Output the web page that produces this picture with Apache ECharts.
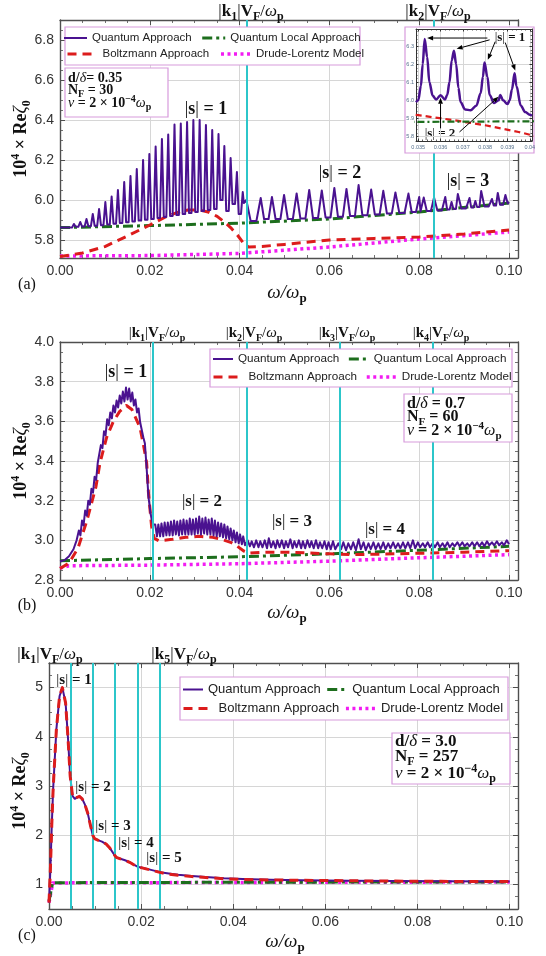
<!DOCTYPE html>
<html><head><meta charset="utf-8">
<script src="https://cdn.jsdelivr.net/npm/echarts@6/dist/echarts.min.js"></script>
<style>html,body{margin:0;padding:0;background:#fff}#c{width:546px;height:956px}</style>
</head><body><div id="c"></div>
<script>
// ---------------- DATA ----------------
// Panel (a): Quantum approach spikes (peak positions, peak heights, trough level after each peak)
const aPeakX = [0.0031,0.0045,0.0059,0.0073,0.0087,0.0101,0.0115,0.0129,0.0143,0.0157,0.0171,0.0185,0.0199,0.0213,0.0227,0.0241,0.0255,0.0269,0.0283,0.0297,0.0311,0.0325,0.0339,0.0353,0.0366,0.0380,0.0394,0.0407,0.0415,
  0.0447,0.0472,0.0499,0.0527,0.0555,0.0583,0.0611,0.0638,0.0665,0.0693,0.0720,0.0747,0.0776,0.0800,0.0810,0.0833,0.0858,0.0872,0.0886,0.0912,0.0925,0.0938,0.0962,0.0975,0.0992];
const aPeakY = [5.88,5.89,5.905,5.93,5.955,5.99,6.017,6.05,6.09,6.12,6.155,6.20,6.23,6.267,6.305,6.327,6.377,6.383,6.39,6.40,6.40,6.375,6.35,6.33,6.27,6.21,6.14,6.04,6.0,
  6.010,6.015,6.025,6.033,6.050,6.048,6.060,6.055,6.075,6.052,6.046,6.038,6.032,6.015,6.012,6.012,6.015,5.99,6.03,6.01,5.995,6.045,6.005,6.035,6.025];
const aTroughY = [5.866,5.867,5.869,5.871,5.874,5.877,5.881,5.885,5.889,5.893,5.897,5.901,5.905,5.91,5.915,5.92,5.925,5.93,5.935,5.94,5.945,5.95,5.955,6.0,5.945,5.98,5.93,5.985,5.895,
  5.905,5.905,5.905,5.907,5.91,5.913,5.916,5.92,5.924,5.928,5.932,5.935,5.94,5.943,5.945,5.948,5.952,5.955,5.958,5.962,5.965,5.968,5.972,5.976,5.982];
const aQuantStart = [0, 5.862];
const aQuantEnd = [0.1, 5.99];
const aBoltz = [[0,5.717],[0.005,5.735],[0.01,5.767],[0.015,5.82],[0.02,5.875],[0.0235,5.915],[0.026,5.937],[0.0285,5.95],[0.031,5.95],[0.033,5.94],[0.035,5.918],[0.0365,5.892],[0.038,5.862],[0.0395,5.825],[0.041,5.78],[0.042,5.765],[0.045,5.768],[0.05,5.778],[0.06,5.8],[0.07,5.808],[0.08,5.815],[0.09,5.83],[0.1,5.85]];
const aLocal = [[0,5.862],[0.02,5.872],[0.04,5.884],[0.06,5.905],[0.08,5.94],[0.1,5.985]];
const aDrude = [[0,5.72],[0.02,5.722],[0.04,5.733],[0.06,5.765],[0.08,5.805],[0.1,5.84]];
const kA = [0.0416, 0.0833];
// Inset of panel (a): quantum approach, 0.035 - 0.040
const insetQuant = [[0.0349,5.99],[0.0350,6.0],[0.03512,6.08],[0.0352,6.2],[0.03529,6.34],[0.0354,6.24],[0.0355,6.1],[0.03565,6.025],[0.0358,6.005],[0.0360,6.028],[0.0362,6.005],[0.0363,6.03],[0.0364,6.1],[0.0365,6.22],[0.0366,6.275],[0.0367,6.2],[0.0368,6.07],[0.0369,5.99],[0.0371,5.95],[0.03735,5.945],[0.0376,5.97],[0.0378,6.04],[0.0379,6.13],[0.03797,6.21],[0.0381,6.13],[0.0382,6.03],[0.0384,5.985],[0.0386,6.0],[0.03868,6.03],[0.0388,6.0],[0.0390,5.98],[0.0391,6.0],[0.0392,6.06],[0.03932,6.15],[0.0394,6.08],[0.0396,5.97],[0.0398,5.935],[0.0400,5.92],[0.0401,5.915]];
// Inset annotation arrows (from label, to feature), in inset data units
const insetArrows = [
  [[0.0381,6.345],[0.03540,6.345]],
  [[0.0382,6.335],[0.03672,6.285]],
  [[0.03845,6.325],[0.03812,6.225]],
  [[0.0389,6.32],[0.03935,6.165]],
  [[0.0360,5.845],[0.0360,6.015]],
  [[0.03685,5.825],[0.03860,6.02]]
];

// Panel (b)
const bQuant = [[0,2.893],[0.001,2.9],[0.002,2.92],[0.003,2.955],[0.0037,3.0],
 [0.0042,3.05],[0.00455,3.025],[0.0049,3.10],[0.00525,3.075],[0.0056,3.15],[0.00595,3.125],[0.0063,3.20],[0.00665,3.18],[0.0070,3.26],[0.00735,3.24],[0.0077,3.32],[0.00805,3.305],[0.0084,3.39],[0.00875,3.385],[0.0091,3.48],[0.00945,3.465],[0.0098,3.55],[0.01015,3.53],[0.0105,3.61],[0.01085,3.58],[0.0112,3.645],[0.01155,3.615],[0.0119,3.68],[0.01225,3.645],[0.0126,3.705],[0.01295,3.67],[0.0133,3.73],[0.01365,3.69],[0.0140,3.75],[0.01435,3.70],[0.0147,3.77],[0.01505,3.71],[0.0154,3.765],[0.01575,3.70],[0.0161,3.745],[0.01645,3.68],[0.0168,3.71],[0.01715,3.645],[0.0175,3.665],[0.01785,3.595],[0.0182,3.60],[0.01855,3.52],[0.0189,3.49],[0.01925,3.38],[0.0197,3.22],[0.0202,3.13],[0.0207,3.08],
 [0.0212,3.08],[0.0216,3.02],[0.0219,3.08],[0.0223,3.02],[0.0226,3.085],[0.0230,3.02],[0.0233,3.09],[0.0237,3.025],[0.0240,3.09],[0.0244,3.025],[0.0247,3.095],[0.0251,3.025],[0.0254,3.10],[0.0258,3.03],[0.0261,3.095],[0.0265,3.025],[0.0268,3.10],[0.0272,3.03],[0.0275,3.105],[0.0279,3.03],[0.0282,3.10],[0.0286,3.03],[0.0289,3.11],[0.0293,3.03],[0.0296,3.105],[0.0300,3.03],[0.0303,3.11],[0.0307,3.035],[0.0310,3.12],[0.0314,3.03],[0.0317,3.11],[0.0321,3.035],[0.0324,3.115],[0.0328,3.03],[0.0331,3.105],[0.0335,3.03],[0.0338,3.11],[0.0342,3.025],[0.0345,3.10],[0.0349,3.02],[0.0352,3.09],[0.0356,3.02],[0.0359,3.085],[0.0363,3.015],[0.0366,3.08],[0.0370,3.01],[0.0373,3.07],[0.0377,3.005],[0.0380,3.06],[0.0384,3.0],[0.0387,3.05],[0.0391,2.99],[0.0394,3.04],[0.0398,2.985],[0.0401,3.03],[0.0405,2.98],[0.0408,3.02],[0.0412,2.975],
 [0.0418,3.0],[0.0423,2.97],[0.0427,2.995],[0.0432,2.965],[0.0437,3.0],[0.0442,2.965],[0.0446,2.995],[0.0451,2.965],[0.0456,3.0],[0.0461,2.96],[0.0465,3.01],[0.0470,2.965],[0.0475,2.995],[0.0480,2.96],[0.0484,3.0],[0.0489,2.965],[0.0494,3.0],[0.0499,2.96],[0.0503,2.995],[0.0508,2.965],[0.0513,3.005],[0.0518,2.96],[0.0522,2.995],[0.0527,2.965],[0.0532,3.0],[0.0537,2.96],[0.0541,2.995],[0.0546,2.96],[0.0551,3.0],[0.0556,2.965],[0.0560,2.995],[0.0565,2.96],[0.0570,3.0],[0.0575,2.96],[0.0579,2.99],[0.0584,2.96],[0.0589,2.995],[0.0594,2.955],[0.0598,2.99],[0.0603,2.955],[0.0608,2.995],[0.0613,2.955],
 [0.0620,2.985],[0.0626,2.955],[0.0631,2.99],[0.0637,2.95],[0.0642,2.985],[0.0648,2.955],[0.0653,2.99],[0.0659,2.95],[0.0665,3.005],[0.0670,2.955],[0.0676,2.99],[0.0681,2.95],[0.0687,2.985],[0.0692,2.955],[0.0698,2.99],[0.0703,2.955],[0.0709,2.985],[0.0714,2.955],[0.0720,2.99],[0.0725,2.955],[0.0731,2.985],[0.0736,2.96],[0.0742,2.99],[0.0747,2.96],[0.0753,2.985],[0.0758,2.96],[0.0764,2.99],[0.0769,2.96],[0.0775,2.99],[0.0780,2.96],[0.0786,3.0],[0.0791,2.96],[0.0797,2.99],[0.0802,2.965],[0.0808,2.985],[0.0813,2.965],[0.0819,2.99],[0.0824,2.965],[0.0830,2.985],[0.0835,2.965],[0.0841,2.99],[0.0846,2.965],[0.0852,2.985],[0.0857,2.965],[0.0863,2.99],[0.0868,2.965],[0.0874,2.985],[0.0879,2.97],[0.0885,2.99],[0.0890,2.97],[0.0896,2.99],[0.0901,2.97],[0.0907,2.985],[0.0912,2.97],[0.0918,2.99],[0.0923,2.97],[0.0929,2.99],[0.0934,2.97],[0.0940,2.99],[0.0945,2.97],[0.0951,2.995],[0.0956,2.975],[0.0962,2.99],[0.0967,2.975],[0.0973,2.995],[0.0978,2.975],[0.0984,2.99],[0.0989,2.975],[0.0995,3.0],[0.1,2.98]];
const bBoltz = [[0,2.858],[0.002,2.885],[0.004,2.96],[0.006,3.1],[0.008,3.27],[0.0089,3.39],[0.0104,3.52],[0.0119,3.6],[0.0133,3.65],[0.0148,3.68],[0.016,3.66],[0.0178,3.57],[0.0186,3.48],[0.0193,3.39],[0.0197,3.24],[0.0204,3.07],[0.021,3.01],[0.022,2.998],[0.025,3.005],[0.028,3.015],[0.031,3.02],[0.034,3.015],[0.036,3.005],[0.038,2.99],[0.0395,2.97],[0.041,2.945],[0.042,2.935],[0.045,2.94],[0.05,2.94],[0.055,2.937],[0.06,2.932],[0.065,2.928],[0.07,2.93],[0.075,2.932],[0.08,2.935],[0.085,2.937],[0.09,2.94],[0.095,2.944],[0.1,2.948]];
const bLocal = [[0,2.897],[0.02,2.908],[0.04,2.917],[0.06,2.932],[0.08,2.95],[0.1,2.97]];
const bDrude = [[0,2.86],[0.002,2.872],[0.02,2.875],[0.04,2.882],[0.06,2.895],[0.08,2.912],[0.1,2.928]];
const kB = [0.0207, 0.0415, 0.0622, 0.0831];

// Panel (c)
const cQuant = [[0,0.63],[0.0003,1.3],[0.0006,2.2],[0.0009,2.94],[0.0016,4.15],[0.0023,4.83],[0.0029,5.0],[0.0036,4.69],[0.0041,4.01],[0.0046,3.2],[0.0051,2.8],[0.0056,2.74],[0.0061,2.77],[0.0066,2.79],[0.0072,2.74],[0.0078,2.62],[0.0084,2.45],[0.009,2.2],[0.0095,2.0],[0.0099,1.93],[0.0106,1.9],[0.0115,1.87],[0.0124,1.82],[0.0132,1.74],[0.0139,1.64],[0.0146,1.55],[0.0155,1.52],[0.0165,1.49],[0.0175,1.45],[0.0184,1.4],[0.0192,1.36],[0.0202,1.34],[0.0215,1.31],[0.023,1.275],[0.0245,1.24],[0.026,1.22],[0.028,1.195],[0.031,1.17],[0.034,1.15],[0.038,1.125],[0.042,1.11],[0.048,1.095],[0.055,1.085],[0.065,1.075],[0.075,1.068],[0.085,1.062],[0.1,1.057]];
const cBoltz = [[0,0.63],[0.0003,1.3],[0.0006,2.2],[0.0009,2.94],[0.0016,4.15],[0.0023,4.83],[0.0029,5.0],[0.0036,4.69],[0.0041,4.01],[0.0046,3.2],[0.0051,2.8],[0.0056,2.74],[0.0061,2.77],[0.0066,2.79],[0.0072,2.74],[0.0078,2.62],[0.0084,2.45],[0.009,2.2],[0.0095,2.0],[0.0099,1.93],[0.0106,1.9],[0.0115,1.87],[0.0124,1.82],[0.0132,1.74],[0.0139,1.64],[0.0146,1.55],[0.0155,1.52],[0.0165,1.49],[0.0175,1.45],[0.0184,1.4],[0.0192,1.36],[0.0202,1.335],[0.0215,1.305],[0.023,1.27],[0.0245,1.235],[0.026,1.21],[0.028,1.185],[0.031,1.16],[0.034,1.14],[0.038,1.115],[0.042,1.1],[0.048,1.09],[0.055,1.083],[0.065,1.074],[0.075,1.067],[0.085,1.062],[0.1,1.057]];
const cLocal = [[0,0.66],[0.0008,1.035],[0.05,1.045],[0.1,1.05]];
const cDrude = [[0,0.63],[0.0008,1.03],[0.05,1.042],[0.1,1.048]];
const kC = [0.0047, 0.0095, 0.0143, 0.0192, 0.0240];

const NAMES = ['Quantum Approach','Quantum Local Approach','Boltzmann Approach','Drude-Lorentz Model'];

// ---------------- STYLE ----------------
const COL = {q:'#4a1290', b:'#dc1c1c', l:'#1d6e1d', d:'#f21cf2', k:'#2cc6ca', box:'#d79bdc'};
const SERIF = "'Liberation Serif','DejaVu Serif',serif";
const SANS = "'Liberation Sans',Arial,sans-serif";
const FRAME = '#4f4f4f';

function spikePath(start, px, py, ty, end, frac) {
  const pts = [start.slice()];
  const n = px.length;
  for (let i = 0; i < n; i++) {
    const gl = i > 0 ? px[i] - px[i-1] : px[1] - px[0];
    const gr = i < n - 1 ? px[i+1] - px[i] : px[i] - px[i-1];
    pts.push([px[i] - frac * gl, i > 0 ? ty[i-1] : start[1]]);
    pts.push([px[i], py[i]]);
    pts.push([px[i] + frac * gr, ty[i]]);
  }
  pts.push(end.slice());
  return pts;
}

function mkAxes(gi, dim, min, max, step, o) {
  const base = {
    type:'value', gridIndex:gi, min:min, max:max, z:o.z || 0,
    axisLine:{show:true, onZero:false, lineStyle:{color:o.fc || FRAME, width:o.lw || 1.4}},
    axisTick:{show:true, inside:true, length:o.tl || 5, lineStyle:{color:o.fc || FRAME, width:1}},
    minorTick:{show:true, splitNumber:o.mn || 4, length:o.ml || 3, lineStyle:{color:o.fc || FRAME, width:0.8}},
    axisPointer:{show:false}
  };
  if (step.interval) base.interval = step.interval; else base.splitNumber = step.split;
  const main = Object.assign({}, base, {
    position: dim === 'x' ? 'bottom' : 'left',
    splitLine:{show:true, lineStyle:{color:'#d6d6d6', width:1}},
    axisLabel:{show:true, margin:o.lm || 6, fontFamily:SANS, fontSize:o.fs || 14, color:o.lc || '#333',
      showMinLabel:o.smin, showMaxLabel:o.smax, formatter:o.fmt}
  });
  const opp = Object.assign({}, base, {position: dim === 'x' ? 'top' : 'right', splitLine:{show:false}, axisLabel:{show:false}});
  return [main, opp];
}

const fx = v => v.toFixed(2);
const fy = v => v.toFixed(1);
const xAxes = [].concat(
  mkAxes(0,'x',0,0.102,{interval:0.02},{fmt:fx, smax:false}),
  mkAxes(1,'x',0.0349,0.0401,{split:5},{fmt:v=>String(+v.toFixed(3)), smin:false, smax:false, fs:5.5, lc:'#56708c', lm:3, tl:2.5, ml:1.5, mn:5, lw:1, z:60, fc:'#333'}),
  mkAxes(2,'x',0,0.102,{interval:0.02},{fmt:fx, smax:false}),
  mkAxes(3,'x',0,0.1018,{interval:0.02},{fmt:fx, smax:false})
);
const yAxes = [].concat(
  mkAxes(0,'y',5.71,6.9,{split:6},{fmt:fy, smin:false, smax:false}),
  mkAxes(1,'y',5.775,6.395,{split:6},{fmt:fy, smin:false, smax:false, fs:5.5, lc:'#56708c', lm:2, tl:2.5, ml:1.5, mn:5, lw:1, z:60, fc:'#333'}),
  mkAxes(2,'y',2.8,4.0,{interval:0.2},{fmt:fy}),
  mkAxes(3,'y',0.5,5.5,{split:5},{fmt:v=>String(v), smin:false, smax:false})
);

function ser(name, data, p, color, width, type, z, extra) {
  return Object.assign({
    name:name, type:'line', data:data, xAxisIndex:2*p, yAxisIndex:2*p,
    symbol:'none', showSymbol:false, silent:true, animation:false, z:z,
    lineStyle:{color:color, width:width, type:type, cap:'butt', join:'round'},
    itemStyle:{color:color}, emphasis:{disabled:true}
  }, extra || {});
}
function kLines(ks) {
  return {silent:true, precision:6, symbol:['none','none'], label:{show:false}, animation:false, emphasis:{disabled:true},
    lineStyle:{color:COL.k, width:2, type:'solid'}, data: ks.map(v => ({xAxis:v}))};
}
const DASH = [9,6], DOTDASH = [10,4,3,4], DOT = [3,3.5];

const aQuant = spikePath(aQuantStart, aPeakX, aPeakY, aTroughY, aQuantEnd, 0.3);

const series = [
  // panel a
  ser(NAMES[0], aQuant, 0, COL.q, 2, 'solid', 4),
  ser(NAMES[1], aLocal, 0, COL.l, 3, DOTDASH, 3),
  ser(NAMES[2], aBoltz, 0, COL.b, 3, DASH, 3),
  ser(NAMES[3], aDrude, 0, COL.d, 3.5, DOT, 2, {markLine:kLines(kA)}),
  // inset
  ser(NAMES[2], aBoltz, 1, COL.b, 2.2, [6,4], 61),
  ser(NAMES[1], aLocal, 1, COL.l, 2.2, [7,3,2,3], 61),
  ser(NAMES[0], insetQuant, 1, COL.q, 2.5, 'solid', 62, {smooth:0.35, smoothMonotone:'x'}),
  // panel b
  ser(NAMES[3], bDrude, 2, COL.d, 3.5, DOT, 2, {markLine:kLines(kB)}),
  ser(NAMES[1], bLocal, 2, COL.l, 3, DOTDASH, 3),
  ser(NAMES[2], bBoltz, 2, COL.b, 3, DASH, 3),
  ser(NAMES[0], bQuant, 2, COL.q, 2, 'solid', 4),
  // panel c
  ser(NAMES[3], cDrude, 3, COL.d, 3.5, DOT, 3, {markLine:kLines(kC)}),
  ser(NAMES[1], cLocal, 3, COL.l, 3, DOTDASH, 3),
  ser(NAMES[0], cQuant, 3, COL.q, 2, 'solid', 4),
  ser(NAMES[2], cBoltz, 3, COL.b, 3, DASH, 5)
];

function L(names, left, top, iw, gap, fs) {
  return {show:true, z:60, left:left, top:top, orient:'horizontal', padding:0, itemGap:gap,
    itemWidth:iw, itemHeight:10, selectedMode:false, data:names,
    textStyle:{fontFamily:SANS, fontSize:fs, color:'#222'},
    lineStyle:{width:'inherit', type:'inherit'}, itemStyle:{opacity:0}};
}
const legends = [
  L([NAMES[0], NAMES[1]], 63, 32, 23, 9, 11.5),
  L([NAMES[2], NAMES[3]], 66, 48, 30, 10, 11.5),
  L([NAMES[0], NAMES[1]], 212, 353, 20, 8, 11.7),
  L([NAMES[2], NAMES[3]], 212, 371, 30, 8, 11.7),
  L([NAMES[0], NAMES[1]], 182, 683, 20, 5, 13),
  L([NAMES[2], NAMES[3]], 182, 702, 30, 5, 13)
];

// ---------------- TEXT / ANNOTATIONS ----------------
function rich(s) {
  const lh = Math.round(s * 1.3), ss = Math.round(s * 0.68);
  return {
    b:{fontFamily:SERIF, fontWeight:'bold', fontSize:s, lineHeight:lh},
    r:{fontFamily:SERIF, fontSize:s, lineHeight:lh},
    i:{fontFamily:SERIF, fontStyle:'italic', fontSize:s, lineHeight:lh},
    sb:{fontFamily:SERIF, fontWeight:'bold', fontSize:ss, lineHeight:ss, verticalAlign:'bottom'},
    sp:{fontFamily:SERIF, fontWeight:'bold', fontSize:ss, lineHeight:ss, verticalAlign:'top'}
  };
}
function T(x, y, text, s, align, rot) {
  const el = {type:'text', x:x, y:y, z:52, silent:true,
    style:{text:text, rich:rich(s), fill:'#111', align:align || 'center', verticalAlign:'middle'}};
  if (rot) el.rotation = rot;
  return el;
}
function R(x, y, w, h) {
  return {type:'rect', z:50, silent:true, shape:{x:x, y:y, width:w, height:h},
    style:{fill:'#fff', stroke:COL.box, lineWidth:1.2}};
}
const KLBL = n => '{r||}{b|k}{sb|' + n + '}{r||}{b|V}{sb|F}{r|/}{i|ω}{sb|p}';
const SLBL = n => '{r||}{b|s}{r||}{b| = ' + n + '}';
const YNAME = '{b|10}{sp|4}{b| × Re}{i|ζ}{sb|0}';
const XNAME = '{i|ω/ω}{sb|p}';
const NU = '{i|ν}{b| = 2 × 10}{sp|−4}{i|ω}{sb|p}';

const graphics = [
  // panel a
  R(65, 27, 295, 38), R(65, 68, 103, 49), R(405, 27, 129, 126),
  T(251, 12, KLBL(1), 17), T(438, 12, KLBL(2), 17),
  T(206, 109, SLBL(1), 18), T(340, 173, SLBL(2), 18), T(468, 181, SLBL(3), 18),
  T(510, 38, SLBL(1), 13), T(440, 134, SLBL(2), 13),
  T(68, 78, '{b|d/}{i|δ}{b|= 0.35}', 14, 'left'), T(68, 90, '{b|N}{sb|F}{b| = 30}', 14, 'left'), T(68, 103, NU, 14, 'left'),
  T(21, 139, YNAME, 18, 'center', Math.PI / 2), T(287, 293, XNAME, 19), T(27, 285, '{r|(a)}', 16),
  // panel b
  R(210, 349, 302, 38), R(404, 394, 108, 48),
  T(157, 333, KLBL(1), 15), T(254, 333, KLBL(2), 15), T(347, 333, KLBL(3), 15), T(441, 333, KLBL(4), 15),
  T(126, 372, SLBL(1), 18), T(202, 502, SLBL(2), 17), T(292, 522, SLBL(3), 17), T(385, 530, SLBL(4), 17),
  T(407, 404, '{b|d/}{i|δ}{b| = 0.7}', 16, 'left'), T(407, 417, '{b|N}{sb|F}{b| = 60}', 16, 'left'), T(407, 431, NU, 16, 'left'),
  T(21, 461, YNAME, 18, 'center', Math.PI / 2), T(287, 613, XNAME, 19), T(27, 606, '{r|(b)}', 16),
  // panel c
  R(180, 677, 328, 43), R(392, 733, 118, 51),
  T(50, 655, KLBL(1), 17), T(184, 655, KLBL(5), 17),
  T(74, 680, SLBL(1), 15), T(93, 787, SLBL(2), 15), T(113, 826, SLBL(3), 15), T(136, 843, SLBL(4), 15), T(164, 858, SLBL(5), 15),
  T(395, 742, '{b|d/}{i|δ}{b| = 3.0}', 17, 'left'), T(395, 757, '{b|N}{sb|F}{b| = 257}', 17, 'left'), T(395, 774, NU, 17, 'left'),
  T(20, 791, YNAME, 18, 'center', Math.PI / 2), T(285, 942, XNAME, 19), T(27, 936, '{r|(c)}', 16)
];

const option = {
  animation:false,
  backgroundColor:'#fff',
  grid:[
    {left:60, top:20, width:458, height:238},
    {left:416, top:29, width:116, height:112, z:60},
    {left:60, top:342, width:458, height:238},
    {left:49, top:663, width:469, height:246}
  ],
  xAxis:xAxes, yAxis:yAxes, legend:legends, series:series,
  graphic:{elements:graphics}
};
const chart = echarts.init(document.getElementById('c'), null, {renderer:'canvas'});
chart.setOption(option);

// Inset arrows: positioned through the inset axes' own scales
const arrowEls = [];
insetArrows.forEach(function (ar) {
  const p = chart.convertToPixel({xAxisIndex:2, yAxisIndex:2}, ar[0]);
  const q = chart.convertToPixel({xAxisIndex:2, yAxisIndex:2}, ar[1]);
  if (!p || !q) return;
  const dx = q[0] - p[0], dy = q[1] - p[1], len = Math.hypot(dx, dy) || 1;
  const ux = dx / len, uy = dy / len, hl = 6, hw = 2.4;
  const bx = q[0] - ux * hl, by = q[1] - uy * hl;
  arrowEls.push({type:'line', z:70, silent:true, shape:{x1:p[0], y1:p[1], x2:bx, y2:by}, style:{stroke:'#000', lineWidth:1}});
  arrowEls.push({type:'polygon', z:70, silent:true, shape:{points:[[q[0], q[1]], [bx - uy * hw, by + ux * hw], [bx + uy * hw, by - ux * hw]]}, style:{fill:'#000'}});
});
chart.setOption({graphic:{elements: graphics.concat(arrowEls)}});
</script></body></html>
